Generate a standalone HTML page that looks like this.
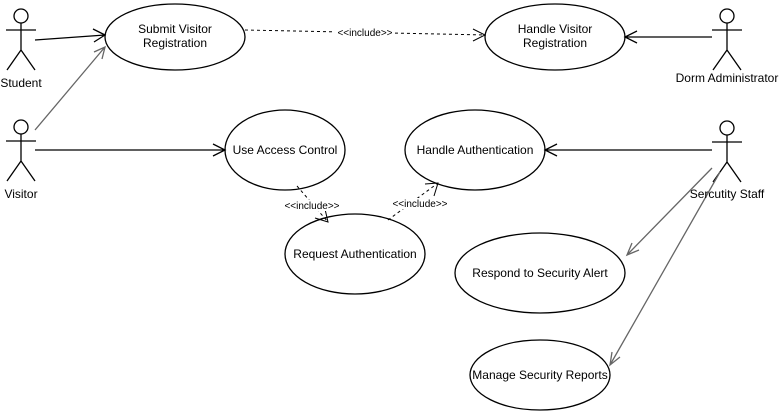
<!DOCTYPE html>
<html><head><style>body{margin:0;background:#fff}svg{display:block}text{font-family:"Liberation Sans",Arial,sans-serif;font-size:12px;fill:#000}</style></head><body>
<svg width="779" height="411" viewBox="0 0 779 411">
<g fill="none" stroke="#000" stroke-width="1.3">
<!-- actors -->
<g id="a"><circle cx="21" cy="16" r="7"/><path d="M21 23V50M6 30H36M21 50L7 70M21 50L35 70"/></g>
<use href="#a" transform="translate(0,111)"/>
<use href="#a" transform="translate(706,0)"/>
<use href="#a" transform="translate(706,112)"/>
<ellipse cx="175" cy="37" rx="70" ry="33"/>
<ellipse cx="555" cy="37" rx="70" ry="33"/>
<ellipse cx="285" cy="150" rx="60" ry="40"/>
<ellipse cx="475" cy="150" rx="70" ry="40"/>
<ellipse cx="355" cy="254" rx="70" ry="40"/>
<ellipse cx="540" cy="273" rx="85" ry="40"/>
<ellipse cx="540" cy="375" rx="70" ry="35"/>
<path d="M35 40L105 35M93 29L105 35L94 42"/>
<path d="M35 150H225M213 144L225 150L213 156"/>
<path d="M712 37H625M637 31L625 37L637 43"/>
<path d="M712 150H545M557 144L545 150L557 156"/>
</g>
<g fill="none" stroke="#666" stroke-width="1.3">
<path d="M35 130L105 47M94 52L105 47L102 59"/>
<path d="M712 168L627 255M632 243L627 255L639 250"/>
<path d="M720 172L610 365M612 352L610 365L620 357"/>
</g>
<g fill="none" stroke="#000" stroke-width="1" stroke-dasharray="3,3">
<path d="M245 30L485 35"/>
<path d="M297 186L328 222"/>
<path d="M388 220L438 183"/>
</g>
<g fill="none" stroke="#000" stroke-width="1">
<path d="M473 29L485 35L473 41"/>
<path d="M315 218L328 222L325 209"/>
<path d="M425 184L438 183L434 196"/>
</g>
<g text-anchor="middle">
<text x="21" y="87">Student</text>
<text x="21" y="198">Visitor</text>
<text x="727" y="82">Dorm Administrator</text>
<text x="727" y="198">Sercutity Staff</text>
<text x="175" y="33">Submit Visitor</text>
<text x="175" y="47">Registration</text>
<text x="555" y="33">Handle Visitor</text>
<text x="555" y="47">Registration</text>
<text x="285" y="154">Use Access Control</text>
<text x="475" y="154">Handle Authentication</text>
<text x="355" y="258">Request Authentication</text>
<text x="540" y="277">Respond to Security Alert</text>
<text x="540" y="379">Manage Security Reports</text>
<g style="font-size:10px"><rect x="335" y="26" width="60" height="12" fill="#fff"/><text x="365" y="36" style="font-size:10px">&lt;&lt;include&gt;&gt;</text>
<rect x="282" y="200" width="60" height="11" fill="#fff"/><text x="312" y="209" style="font-size:10px">&lt;&lt;include&gt;&gt;</text>
<rect x="390" y="198" width="60" height="11" fill="#fff"/><text x="420" y="207" style="font-size:10px">&lt;&lt;include&gt;&gt;</text></g>
</g>
</svg>
</body></html>
